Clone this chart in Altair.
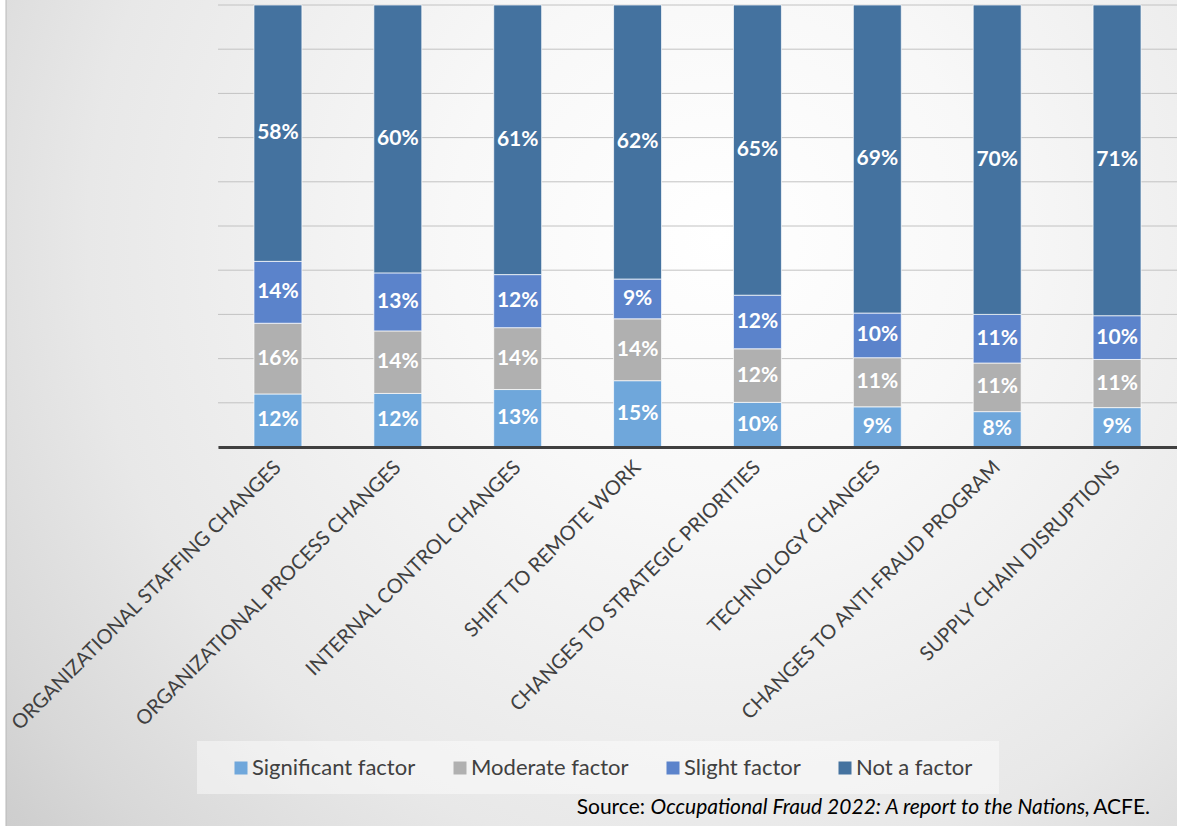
import altair as alt
import pandas as pd

categories = [
    "ORGANIZATIONAL STAFFING CHANGES",
    "ORGANIZATIONAL PROCESS CHANGES",
    "INTERNAL CONTROL CHANGES",
    "SHIFT TO REMOTE WORK",
    "CHANGES TO STRATEGIC PRIORITIES",
    "TECHNOLOGY CHANGES",
    "CHANGES TO ANTI-FRAUD PROGRAM",
    "SUPPLY CHAIN DISRUPTIONS",
]
factors = ["Significant factor", "Moderate factor", "Slight factor", "Not a factor"]
significant = [12, 12, 13, 15, 10, 9, 8, 9]
moderate = [16, 14, 14, 14, 12, 11, 11, 11]
slight = [14, 13, 12, 9, 12, 10, 11, 10]
not_factor = [58, 60, 61, 62, 65, 69, 70, 71]
colors = ["#6fa7db", "#b0b0b0", "#5b83cb", "#44729f"]
grid_values = [0.0, 0.1, 0.2, 0.3, 0.4, 0.5, 0.6, 0.7, 0.8, 0.9, 1.0]

series = [significant, moderate, slight, not_factor]
rows = []
for i, cat in enumerate(categories):
    for j, f in enumerate(factors):
        rows.append({"category": cat, "factor": f, "value": series[j][i], "order": j})
df = pd.DataFrame(rows)

FONT = "Lato"
W, H = 959, 442

base = (
    alt.Chart(df)
    .transform_stack(
        stack="value",
        groupby=["category"],
        as_=["y0", "y1"],
        sort=[alt.SortField("order", order="ascending")],
        offset="normalize",
    )
    .transform_calculate(ymid="(datum.y0 + datum.y1) / 2", label="datum.value + '%'")
)

yscale = alt.Scale(domain=[0, 1], nice=False)

xenc = alt.X(
    "category:N",
    sort=categories,
    scale=alt.Scale(paddingInner=0.6, paddingOuter=0.3),
    axis=alt.Axis(
        title=None,
        labelAngle=-45,
        labelAlign="right",
        labelBaseline="middle",
        labelFont=FONT,
        labelFontSize=20,
        labelColor="#404040",
        labelPadding=17,
        labelLimit=0,
        labelOverlap=False,
        ticks=False,
        domainColor="#404040",
        domainWidth=3,
        grid=False,
        zindex=1,
    ),
)

one = pd.DataFrame({"a": [0]})
bg = alt.Chart(one).mark_rect(
    fill={
        "gradient": "radial",
        "x1": 0.6, "y1": 0.35, "r1": 0,
        "x2": 0.6, "y2": 0.35, "r2": 0.9,
        "stops": [
            {"offset": 0, "color": "#ffffff"},
            {"offset": 0.25, "color": "#f8f8f8"},
            {"offset": 0.59, "color": "#e8e8e8"},
            {"offset": 0.77, "color": "#d8d8d8"},
            {"offset": 0.85, "color": "#cfcfcf"},
            {"offset": 1, "color": "#c4c4c4"},
        ],
    },
    stroke="#b8b8b8",
    strokeWidth=1,
).encode(x=alt.value(-212), x2=alt.value(975), y=alt.value(-15), y2=alt.value(835))

grid = alt.Chart(pd.DataFrame({"v": grid_values})).mark_rule(
    color="#c2c2c2", strokeWidth=1
).encode(y=alt.Y("v:Q", scale=yscale, axis=None))

bars = base.mark_bar(stroke="white", strokeWidth=1, strokeOpacity=0.7).encode(
    x=xenc,
    y=alt.Y("y0:Q", scale=yscale, axis=None),
    y2="y1:Q",
    color=alt.Color(
        "factor:N",
        sort=factors,
        scale=alt.Scale(domain=factors, range=colors),
        legend=alt.Legend(
            title=None,
            orient="none",
            legendX=12,
            legendY=752,
            direction="horizontal",
            symbolType="square",
            symbolSize=169,
            symbolStrokeWidth=0,
            labelFont=FONT,
            labelFontSize=22,
            labelColor="#404040",
            labelOffset=0,
            labelLimit=0,
            columnPadding=33,
            padding=0,
        ),
    ),
)

labels = base.mark_text(
    color="white", font=FONT, fontWeight="bold", fontSize=21, baseline="middle"
).encode(
    x=alt.X("category:N", sort=categories),
    y=alt.Y("ymid:Q", scale=yscale, axis=None),
    text="label:N",
)

legend_box = alt.Chart(one).mark_rect(fill="#ffffff", fillOpacity=0.45).encode(
    x=alt.value(-21), x2=alt.value(781), y=alt.value(736), y2=alt.value(789)
)

src1 = alt.Chart(one).mark_text(
    font=FONT, fontSize=21, color="#000000", align="right", baseline="middle"
).encode(x=alt.value(427), y=alt.value(803), text=alt.value("Source:"))
src2 = alt.Chart(one).mark_text(
    font=FONT, fontSize=21, fontStyle="italic", color="#000000", align="right", baseline="middle"
).encode(x=alt.value(872), y=alt.value(803),
         text=alt.value("Occupational Fraud 2022: A report to the Nations,"))
src3 = alt.Chart(one).mark_text(
    font=FONT, fontSize=21, color="#000000", align="right", baseline="middle"
).encode(x=alt.value(932), y=alt.value(803), text=alt.value("ACFE."))

chart = (
    alt.layer(bg, grid, legend_box, bars, labels, src1, src2, src3)
    .properties(
        width=W,
        height=H,
        autosize=alt.AutoSizeParams(type="none"),
        padding={"left": 218, "top": 5, "right": 0, "bottom": 379},
        background="white",
    )
    .configure_view(stroke=None)
)

chart.save("out.html", embed_options={"renderer": "svg", "actions": False})
